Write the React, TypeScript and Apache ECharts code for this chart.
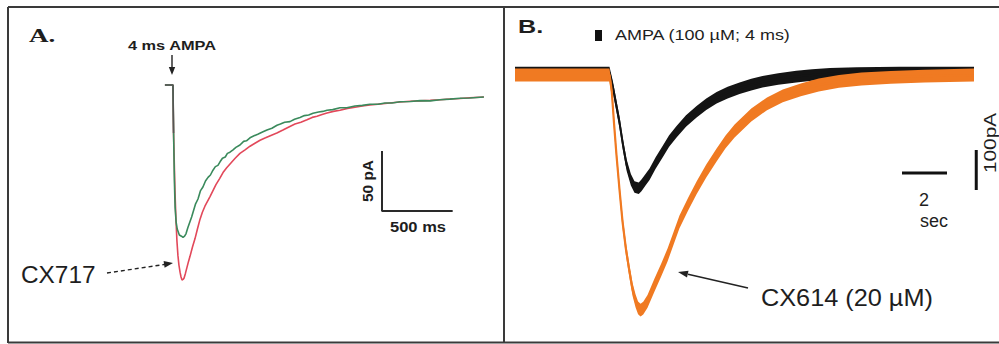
import React, { useEffect, useRef } from 'react';
import * as echarts from 'echarts';

// ---------- Panel A : AMPA currents, control (green) vs CX717 (red); t in ms, I in pA ----------
const greenA: [number, number][] = [
  [-57, 0], [0, 0], [5, -45], [10, -80], [15, -102], [22, -114], [30, -120], [45, -125], [60, -126], [71, -127],
  [82, -126], [92, -124], [105, -119], [120, -114], [132, -110], [142, -106], [160, -99], [177, -95], [195, -88],
  [212, -85], [230, -80], [248, -77], [265, -75], [283, -71], [300, -68], [318, -67], [333, -64], [350, -61],
  [370, -60], [385, -57], [403, -56], [425, -54], [445, -52], [474, -50], [500, -47], [520, -46.5], [545, -44],
  [570, -42.5], [600, -41], [637, -39], [665, -37.5], [700, -36], [736, -33.5], [760, -32.5], [790, -31],
  [828, -30.5], [860, -28.5], [899, -27], [930, -25.5], [960, -25], [991, -23.5], [1030, -22.5], [1060, -22],
  [1090, -21], [1130, -20.5], [1182, -19], [1230, -19], [1288, -17.5], [1340, -17], [1394, -16], [1450, -16],
  [1500, -15], [1550, -15], [1606, -14], [1680, -13.8], [1748, -13], [1820, -13.2], [1889, -12.3], [1960, -11.8],
  [2031, -11], [2100, -10.8], [2200, -10],
];
const redA: [number, number][] = [
  [-57, 0], [0, 0], [4, -40], [7, -54], [14, -88], [21, -112], [28, -130], [35, -142], [42, -150], [50, -156],
  [57, -160], [64, -162.5], [71, -162], [78, -161], [88, -157], [99, -152], [110, -147], [120, -143], [138, -135],
  [156, -128], [173, -120], [191, -112], [208, -106], [226, -101], [244, -97], [262, -93], [283, -88], [304, -83],
  [330, -78], [354, -73], [380, -69], [410, -65], [440, -61], [474, -57], [510, -54], [545, -51], [580, -48.5],
  [616, -46], [655, -44], [693, -42], [735, -40], [778, -37.5], [820, -35], [863, -32.5], [905, -31], [948, -29],
  [985, -27], [1019, -26], [1055, -24.5], [1090, -23.3], [1135, -22], [1182, -21], [1235, -19.5], [1288, -18.5],
  [1340, -17.5], [1394, -16.7], [1450, -16], [1500, -15.4], [1550, -14.8], [1606, -14.2], [1680, -13.6],
  [1748, -13.2], [1820, -12.8], [1889, -12.3], [1960, -11.7], [2031, -11.2], [2100, -10.6], [2200, -10],
];
const onsetA: [number, number][] = [[-57, 0], [0, 0], [4, -40]];
const scaleBarA: [number, number][] = [[1479, -55], [1479, -105], [1979, -105]]; // 50 pA / 500 ms

// ---------- Panel B : AMPA (black) vs CX614 20 µM (orange); t in s, I in pA ----------
const controlB: [number, number][] = [
  [-4.2, 6], [-2, 6], [0, 6], [0.15, -30], [0.3, -75], [0.44, -117], [0.6, -175], [0.76, -225], [0.95, -262],
  [1.11, -280], [1.3, -283], [1.42, -276], [1.6, -262], [1.78, -248], [2.05, -220], [2.36, -192], [2.65, -165],
  [2.98, -142], [3.4, -115], [3.87, -92], [4.3, -73], [4.76, -57], [5.25, -44], [5.78, -33], [6.3, -24],
  [6.8, -17], [7.5, -10], [8.3, -4], [9.0, 0], [9.8, 3], [11, 5], [12.9, 6], [14.5, 6], [16.2, 6],
];
const cx614B: [number, number][] = [
  [-4.2, 0], [0, 0], [0.1, -40], [0.2, -120], [0.31, -200], [0.45, -290], [0.58, -367], [0.73, -435],
  [0.89, -492], [1.02, -535], [1.16, -565], [1.27, -582], [1.38, -588], [1.5, -583], [1.69, -566], [2.0, -525],
  [2.3, -487], [2.58, -450], [2.85, -408], [3.11, -367], [3.5, -322], [3.87, -282], [4.3, -240], [4.76, -200],
  [5.15, -168], [5.56, -140], [6.3, -100], [7.0, -72], [7.7, -52], [8.5, -37], [9.3, -25], [10.2, -16],
  [11.2, -10], [12.5, -6], [14, -3], [16.2, 0],
];
const scaleBarB_time: [number, number][] = [[13, -245], [15, -245]]; // 2 sec
const scaleBarB_amp: [number, number][] = [[16.3, -187.5], [16.3, -287.5]]; // 100 pA

const SANS = '"Liberation Sans", Arial, sans-serif';
const SERIF = '"Liberation Serif", "Times New Roman", serif';

function band(data: [number, number][], half: number, color: string, idx: number, z: number) {
  return {
    type: 'custom',
    xAxisIndex: idx,
    yAxisIndex: idx,
    z,
    silent: true,
    data,
    renderItem: (params: any, api: any) => {
      if (params.dataIndex !== 0) return null;
      const upper = data.map(([t, v]) => api.coord([t, v + half]));
      const lower = data.map(([t, v]) => api.coord([t, v - half])).reverse();
      return { type: 'polygon', shape: { points: upper.concat(lower) }, style: { fill: color } };
    },
  };
}

function line(data: [number, number][], color: string, width: number, idx: number, z: number, extra: any = {}) {
  return {
    type: 'line',
    xAxisIndex: idx,
    yAxisIndex: idx,
    z,
    data,
    symbol: 'none',
    silent: true,
    clip: false,
    lineStyle: { color, width, ...extra },
  };
}

function txt(x: number, y: number, text: string, o: any = {}) {
  const align = o.align || 'left';
  const va = o.va || 'middle';
  return {
    type: 'text',
    x,
    y,
    scaleX: o.sx || 1,
    rotation: o.rot || 0,
    silent: true,
    style: {
      text,
      fill: o.fill || '#1e1e1e',
      fontSize: o.size || 14,
      fontWeight: o.weight || 'normal',
      fontFamily: o.family || SANS,
      align,
      verticalAlign: va,
      textAlign: align,
      textVerticalAlign: va,
    },
  };
}

function seg(x1: number, y1: number, x2: number, y2: number, w = 2, color = '#333', dash?: number[]) {
  return {
    type: 'line',
    silent: true,
    shape: { x1, y1, x2, y2 },
    style: { stroke: color, lineWidth: w, lineDash: dash },
  };
}

function head(points: number[][], color = '#222') {
  return { type: 'polygon', silent: true, shape: { points }, style: { fill: color } };
}

export default function App() {
  const ref = useRef<HTMLDivElement>(null);
  useEffect(() => {
    if (!ref.current) return;
    const chart = echarts.init(ref.current, undefined, { renderer: 'svg' });
    const hidden = { show: false };
    chart.setOption({
      animation: false,
      backgroundColor: '#ffffff',
      grid: [
        { left: 164.5, top: 79, width: 319.4, height: 246 },
        { left: 515, top: 55, width: 463.5, height: 280 },
      ],
      xAxis: [
        { type: 'value', gridIndex: 0, min: -60, max: 2200, axisLine: hidden, axisTick: hidden, axisLabel: hidden, splitLine: hidden },
        { type: 'value', gridIndex: 1, min: -4.2, max: 16.4, axisLine: hidden, axisTick: hidden, axisLabel: hidden, splitLine: hidden },
      ],
      yAxis: [
        { type: 'value', gridIndex: 0, min: -200, max: 5, axisLine: hidden, axisTick: hidden, axisLabel: hidden, splitLine: hidden },
        { type: 'value', gridIndex: 1, min: -650, max: 50, axisLine: hidden, axisTick: hidden, axisLabel: hidden, splitLine: hidden },
      ],
      series: [
        line(redA, '#e2485a', 1.6, 0, 2),
        line(greenA, '#3a8a5c', 1.6, 0, 3),
        line(onsetA, '#555555', 1.5, 0, 4),
        line(scaleBarA, '#2a2a2a', 2, 0, 5),
        band(controlB, 14.5, '#141414', 1, 2),
        line(controlB, '#141414', 2, 1, 3),
        band(cx614B, 16, '#f07a22', 1, 4),
        line(cx614B, '#f07a22', 2.2, 1, 5),
        line(scaleBarB_time, '#111111', 3, 1, 6),
        line(scaleBarB_amp, '#111111', 3, 1, 6),
      ],
      graphic: [
        // frames
        seg(8, 7, 999, 7, 2.2, '#3a3a3a'),
        seg(8, 7, 8, 343, 2, '#3a3a3a'),
        seg(8, 342.5, 999, 342.5, 2, '#3a3a3a'),
        seg(504, 7, 504, 343, 2, '#3a3a3a'),
        // panel A texts
        txt(29, 36, 'A.', { size: 18, weight: 'bold', family: SERIF, sx: 1.5 }),
        txt(172, 46, '4 ms AMPA', { size: 13, weight: 'bold', align: 'center', sx: 1.26 }),
        seg(172, 55, 172, 69, 1.4, '#222'),
        head([[172, 75], [168.8, 67], [175.2, 67]]),
        txt(21, 275, 'CX717', { size: 23, sx: 1.06 }),
        seg(107, 273, 165, 264.4, 1.4, '#222', [4, 3]),
        head([[173, 263], [164.6, 267.8], [163.6, 260.9]]),
        txt(368, 181, '50 pA', { size: 14, weight: 'bold', align: 'center', rot: Math.PI / 2, sx: 1.1 }),
        txt(418, 227, '500 ms', { size: 14, weight: 'bold', align: 'center', sx: 1.18 }),
        // panel B texts
        txt(518, 27, 'B.', { size: 18, weight: 'bold', sx: 1.4 }),
        { type: 'rect', silent: true, shape: { x: 595, y: 30, width: 7, height: 11 }, style: { fill: '#111' } },
        txt(615, 35, 'AMPA (100 µM; 4 ms)', { size: 15, sx: 1.2 }),
        txt(761, 298, 'CX614 (20 µM)', { size: 23, sx: 1.1 }),
        seg(748, 288, 688, 274.2, 1.4, '#222'),
        head([[678, 272], [688.5, 270.8], [687.0, 277.6]]),
        txt(919, 200, '2', { size: 18 }),
        txt(920, 221, 'sec', { size: 18 }),
        txt(990, 143, '100pA', { size: 16, align: 'center', rot: Math.PI / 2, sx: 1.3 }),
      ],
    });
    return () => chart.dispose();
  }, []);
  return (
    <div
      ref={ref}
      style={{ position: 'fixed', left: 0, top: 0, width: 999, height: 344, background: '#fff' }}
    />
  );
}
